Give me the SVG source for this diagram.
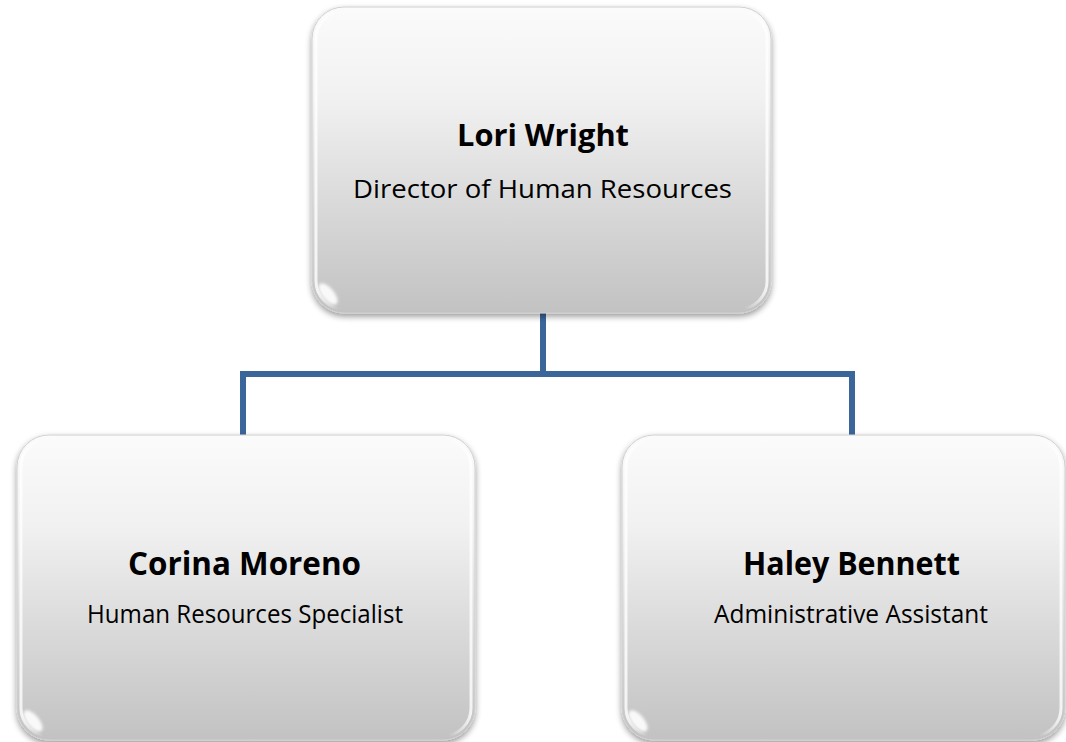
<svg xmlns="http://www.w3.org/2000/svg" width="1066" height="742" viewBox="0 0 1066 742">
  <style>
    .box { fill: url(#boxFill); stroke: #d0d0d0; stroke-width: 1; filter: url(#shadow); }
    .edge { fill: none; stroke: url(#edgeGlow); stroke-width: 3; }
    .gloss { fill: #ffffff; opacity: 0.9; filter: url(#soft); }
    .name { font-family: "Open Sans", "Noto Sans", sans-serif; font-weight: bold; fill: #000; text-anchor: middle; }
    .role { font-family: "Open Sans", "Noto Sans", sans-serif; font-size: 26px; fill: #000; text-anchor: middle; }
    .link { fill: none; stroke: #3b669a; stroke-width: 6; stroke-linejoin: miter; stroke-linecap: butt; }
  </style>
  <defs>
    <linearGradient id="boxFill" x1="0" y1="0" x2="0" y2="1">
      <stop offset="0" stop-color="#fbfbfb"/>
      <stop offset="0.3" stop-color="#f1f1f1"/>
      <stop offset="0.65" stop-color="#d9d9d9"/>
      <stop offset="1" stop-color="#c2c2c2"/>
    </linearGradient>
    <linearGradient id="edgeGlow" x1="0" y1="0" x2="1" y2="0">
      <stop offset="0" stop-color="#ffffff" stop-opacity="0.8"/>
      <stop offset="0.05" stop-color="#ffffff" stop-opacity="0"/>
      <stop offset="0.95" stop-color="#ffffff" stop-opacity="0"/>
      <stop offset="1" stop-color="#ffffff" stop-opacity="0.8"/>
    </linearGradient>
    <filter id="shadow" x="-5%" y="-5%" width="110%" height="115%">
      <feGaussianBlur in="SourceAlpha" stdDeviation="3"/>
      <feOffset dx="0" dy="3" result="b"/>
      <feComponentTransfer><feFuncA type="linear" slope="0.4"/></feComponentTransfer>
      <feMerge><feMergeNode/><feMergeNode in="SourceGraphic"/></feMerge>
    </filter>
    <filter id="soft" x="-50%" y="-50%" width="200%" height="200%">
      <feGaussianBlur stdDeviation="1.5"/>
    </filter>
  </defs>

  <!-- reporting lines -->
  <g id="connectors">
    <path class="link" d="M543 313 V374"/>
    <path class="link" d="M243 435 V374 H852 V435"/>
  </g>

  <g id="node-lori-wright">
    <rect class="box" x="312" y="7" width="459" height="306" rx="32"/>
    <rect class="edge" x="316" y="11" width="451" height="298" rx="28"/>
    <ellipse class="gloss" cx="328" cy="294" rx="6" ry="13" transform="rotate(-40 328 294)"/>
    <text class="name" x="543" y="146" font-size="30" textLength="172" lengthAdjust="spacingAndGlyphs">Lori Wright</text>
    <text class="role" x="542.5" y="198" textLength="379" lengthAdjust="spacingAndGlyphs">Director of Human Resources</text>
  </g>

  <g id="node-corina-moreno">
    <rect class="box" x="17" y="435" width="458" height="305" rx="32"/>
    <rect class="edge" x="21" y="439" width="450" height="297" rx="28"/>
    <ellipse class="gloss" cx="33" cy="721" rx="6" ry="13" transform="rotate(-40 33 721)"/>
    <text class="name" x="244.5" y="575" font-size="32" textLength="233" lengthAdjust="spacingAndGlyphs">Corina Moreno</text>
    <text class="role" x="245" y="623" textLength="316" lengthAdjust="spacingAndGlyphs">Human Resources Specialist</text>
  </g>

  <g id="node-haley-bennett">
    <rect class="box" x="622" y="435" width="443" height="305" rx="32"/>
    <rect class="edge" x="626" y="439" width="435" height="297" rx="28"/>
    <ellipse class="gloss" cx="638" cy="721" rx="6" ry="13" transform="rotate(-40 638 721)"/>
    <text class="name" x="851.5" y="575" font-size="32" textLength="217" lengthAdjust="spacingAndGlyphs">Haley Bennett</text>
    <text class="role" x="851" y="623" textLength="274" lengthAdjust="spacingAndGlyphs">Administrative Assistant</text>
  </g>
</svg>
